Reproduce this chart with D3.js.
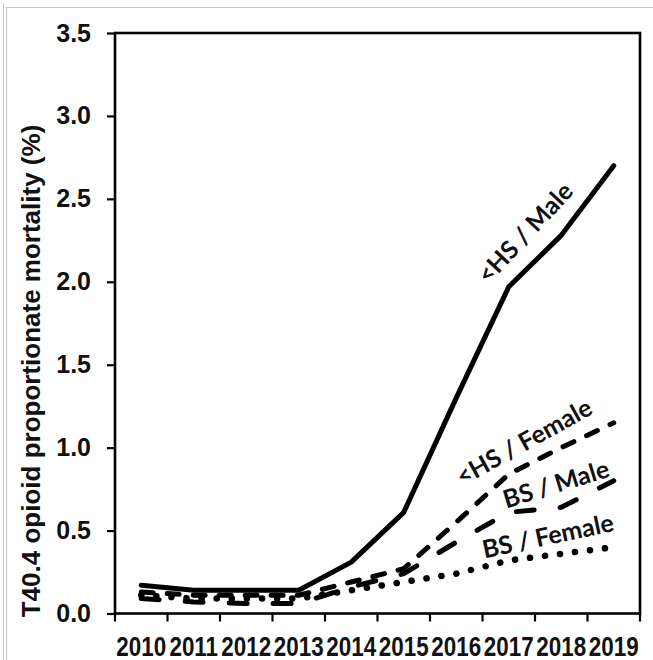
<!DOCTYPE html>
<html>
<head>
<meta charset="utf-8">
<script src="https://cdn.jsdelivr.net/npm/d3@7"></script>
<style>
  html, body { margin: 0; padding: 0; background: #fff; }
  svg { display: block; }
</style>
</head>
<body>
<svg id="chart" width="653" height="660"></svg>
<script>
// Years on the category axis
const years = ["2010", "2011", "2012", "2013", "2014", "2015", "2016", "2017", "2018", "2019"];

// T40.4 opioid proportionate mortality (%) by education / sex
const hsMale   = [0.17, 0.14, 0.14, 0.14, 0.31, 0.61, 1.30, 1.97, 2.28, 2.70];
const hsFemale = [0.13, 0.11, 0.11, 0.11, 0.19, 0.27, 0.55, 0.84, 1.00, 1.15];
const bsMale   = [0.09, 0.07, 0.06, 0.06, 0.16, 0.24, 0.43, 0.61, 0.64, 0.80];
const bsFemale = [0.11, 0.09, 0.09, 0.09, 0.14, 0.19, 0.24, 0.32, 0.36, 0.40];

const seriesNames = ["<HS / Male", "<HS / Female", "BS / Male", "BS / Female"];
const yTicks = [0, 0.5, 1.0, 1.5, 2.0, 2.5, 3.0, 3.5];
const yTitle = "T40.4 opioid proportionate mortality (%)";

const svg = d3.select("#chart");

// Outer frame
svg.append("line").attr("x1", 3.5).attr("x2", 3.5).attr("y1", 3).attr("y2", 660)
  .attr("stroke", "#cfcfcf").attr("stroke-width", 1);
svg.append("path").attr("d", "M6.5,660 V7.5 H653")
  .attr("fill", "none").attr("stroke", "#c8c8c8").attr("stroke-width", 1.2);

const plot = { left: 115, right: 640, top: 33, bottom: 613.5 };

const x = d3.scaleBand().domain(years).range([plot.left, plot.right]).padding(0);
const y = d3.scaleLinear().domain([0, 3.5]).range([plot.bottom, plot.top]);

// Y axis
const yAxis = svg.append("g")
  .attr("transform", `translate(${plot.left},0)`)
  .call(d3.axisLeft(y).tickValues(yTicks).tickFormat(d3.format(".1f"))
    .tickSize(8).tickSizeOuter(0).tickPadding(16));
yAxis.select(".domain").remove();
yAxis.selectAll(".tick line").attr("stroke", "#000").attr("stroke-width", 2.2);
yAxis.selectAll(".tick text")
  .attr("font-family", "'Liberation Sans', Arial, sans-serif")
  .attr("font-weight", "bold").attr("font-size", 25).attr("fill", "#111");

// X axis: condensed labels centred in each band, ticks on the band edges
const xAxis = svg.append("g")
  .attr("transform", `translate(0,${plot.bottom})`)
  .call(d3.axisBottom(x).tickSize(0).tickPadding(23));
xAxis.select(".domain").remove();
xAxis.selectAll(".tick text")
  .attr("font-family", "'Liberation Sans', Arial, sans-serif")
  .attr("font-weight", "bold").attr("font-size", 27).attr("fill", "#111")
  .attr("transform", "scale(0.83,1)");

const edges = years.map(d => x(d)).concat([x.range()[1]]);
svg.append("g").selectAll("line").data(edges).join("line")
  .attr("x1", d => d).attr("x2", d => d)
  .attr("y1", plot.bottom).attr("y2", plot.bottom + 8)
  .attr("stroke", "#000").attr("stroke-width", 2.2);

// Plot area border
svg.append("rect")
  .attr("x", plot.left).attr("y", plot.top)
  .attr("width", plot.right - plot.left).attr("height", plot.bottom - plot.top)
  .attr("fill", "none").attr("stroke", "#000").attr("stroke-width", 2.6);

// Y axis title
svg.append("text")
  .attr("transform", `translate(31,371) rotate(-90)`)
  .attr("text-anchor", "middle").attr("dy", "0.35em")
  .attr("font-family", "'Liberation Sans', Arial, sans-serif")
  .attr("font-weight", "bold").attr("font-size", 26).attr("fill", "#111")
  .text(yTitle);

// Series lines
const line = d3.line()
  .x((d, i) => x(years[i]) + x.bandwidth() / 2)
  .y(d => y(d));

const styles = [
  { data: hsMale,   dash: null,       width: 5,   cap: "round" },
  { data: hsFemale, dash: "12,14",    width: 5,   cap: "round" },
  { data: bsMale,   dash: "18,26",    width: 5,   cap: "round" },
  { data: bsFemale, dash: "0.1,15",   width: 6.5, cap: "round" }
];

svg.append("g").selectAll("path").data(styles).join("path")
  .attr("d", s => line(s.data))
  .attr("fill", "none").attr("stroke", "#000")
  .attr("stroke-width", s => s.width)
  .attr("stroke-linecap", s => s.cap)
  .attr("stroke-linejoin", "round")
  .attr("stroke-dasharray", s => s.dash);

// Series labels placed alongside each line
const labelPos = [
  { cx: 525, cy: 233, angle: -47 },
  { cx: 524, cy: 442, angle: -29 },
  { cx: 556, cy: 484, angle: -17 },
  { cx: 548, cy: 536, angle: -12 }
];
svg.append("g").selectAll("text").data(seriesNames).join("text")
  .attr("transform", (d, i) => `translate(${labelPos[i].cx},${labelPos[i].cy}) rotate(${labelPos[i].angle})`)
  .attr("text-anchor", "middle").attr("dy", "0.35em")
  .attr("font-family", "Lato, 'Open Sans', sans-serif")
  .attr("font-weight", "bold").attr("font-size", 25).attr("fill", "#111")
  .text(d => d);
</script>
</body>
</html>
